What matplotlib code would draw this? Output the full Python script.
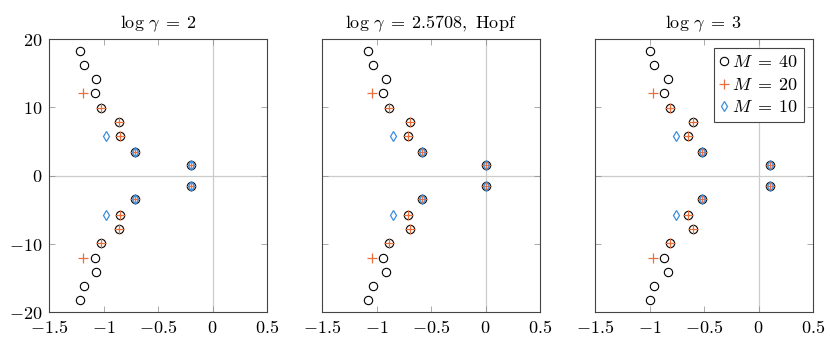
import matplotlib
matplotlib.use('Agg')
import matplotlib.pyplot as plt

plt.rcParams['mathtext.fontset'] = 'cm'
plt.rcParams['font.family'] = 'DejaVu Serif'

titles = [r'$\log\,\gamma\;=\;2$', r'$\log\,\gamma\;=\;2.5708,\ \mathrm{Hopf}$',
          r'$\log\,\gamma\;=\;3$']

# imaginary parts (same for every panel)
im40 = [18.3, 16.2, 14.1, 12.1, 9.9, 7.8, 5.8, 3.5, 1.5,
        -1.5, -3.5, -5.8, -7.8, -9.9, -12.1, -14.1, -16.2, -18.3]
im20 = [12.1, 9.9, 7.8, 5.8, 3.5, 1.5, -1.5, -3.5, -5.8, -7.8, -9.9, -12.1]
im10 = [5.8, 3.5, 1.5, -1.5, -3.5, -5.8]

# real parts, log gamma = 2
re40_a = [-1.216, -1.176, -1.072, -1.075, -1.023, -0.861, -0.846, -0.708, -0.197,
          -0.197, -0.708, -0.846, -0.861, -1.023, -1.075, -1.072, -1.176, -1.216]
re20_a = [-1.188, -1.023, -0.861, -0.846, -0.708, -0.197,
          -0.197, -0.708, -0.846, -0.861, -1.023, -1.188]
re10_a = [-0.974, -0.708, -0.197, -0.197, -0.708, -0.974]

# real parts, log gamma = 2.5708 (Hopf)
re40_b = [-1.074, -1.034, -0.916, -0.937, -0.885, -0.692, -0.713, -0.579, 0.0,
          0.0, -0.579, -0.713, -0.692, -0.885, -0.937, -0.916, -1.034, -1.074]
re20_b = [-1.043, -0.885, -0.692, -0.713, -0.579, 0.0,
          0.0, -0.579, -0.713, -0.692, -0.885, -1.043]
re10_b = [-0.853, -0.579, 0.0, 0.0, -0.579, -0.853]

# real parts, log gamma = 3
re40_c = [-1.0, -0.960, -0.832, -0.866, -0.814, -0.603, -0.646, -0.514, 0.101,
          0.101, -0.514, -0.646, -0.603, -0.814, -0.866, -0.832, -0.960, -1.0]
re20_c = [-0.966, -0.814, -0.603, -0.646, -0.514, 0.101,
          0.101, -0.514, -0.646, -0.603, -0.814, -0.966]
re10_c = [-0.757, -0.514, 0.101, 0.101, -0.514, -0.757]

panels = [(re40_a, re20_a, re10_a), (re40_b, re20_b, re10_b), (re40_c, re20_c, re10_c)]

xticks = [-1.5, -1, -0.5, 0, 0.5]
xlabels = [r'$-1.5$', r'$-1$', r'$-0.5$', r'$0$', r'$0.5$']
yticks = [-20, -10, 0, 10, 20]
ylabels = [r'$-20$', r'$-10$', r'$0$', r'$10$', r'$20$']

c40 = 'black'
c20 = '#e8703f'
c10 = '#3a8ee0'

fig = plt.figure(figsize=(8.3, 3.37), dpi=100)
lefts = [49/830, 322/830, 595/830]
for i, (re40, re20, re10) in enumerate(panels):
    ax = fig.add_axes([lefts[i], 25/337, 218/830, 273/337])
    ax.axhline(0, color='#cccccc', lw=0.9, zorder=0)
    ax.axvline(0, color='#cccccc', lw=0.9, zorder=0)
    ax.plot(re40, im40, 'o', ms=6, mfc='none', mec=c40, mew=0.8, label=r'$M\;=\;40$')
    ax.plot(re20, im20, '+', ms=6.5, color=c20, mew=0.9, label=r'$M\;=\;20$')
    ax.plot(re10, im10, 'd', ms=5, mfc='none', mec=c10, mew=0.9, label=r'$M\;=\;10$')
    ax.set_xlim(-1.5, 0.5)
    ax.set_ylim(-20, 20)
    ax.set_xticks(xticks)
    ax.set_xticklabels(xlabels, fontsize=13)
    ax.set_yticks(yticks)
    if i == 0:
        ax.set_yticklabels(ylabels, fontsize=13)
    else:
        ax.set_yticklabels([])
    ax.tick_params(direction='in', top=True, right=True, length=4, width=0.5,
                   color='#888888')
    ax.tick_params(axis='x', pad=5)
    ax.tick_params(axis='y', pad=5)
    for s in ax.spines.values():
        s.set_color('#444444')
        s.set_linewidth(0.8)
    ax.set_title(titles[i], fontsize=13, pad=8)
    if i == 2:
        leg = ax.legend(loc='upper right', fontsize=13, handlelength=0.5,
                        handletextpad=0.2, borderpad=0.3, labelspacing=0.25,
                        fancybox=False, framealpha=1, borderaxespad=0.5)
        leg.get_frame().set_edgecolor('#444444')
        leg.get_frame().set_linewidth(0.8)

fig.savefig('out.png', dpi=100)
